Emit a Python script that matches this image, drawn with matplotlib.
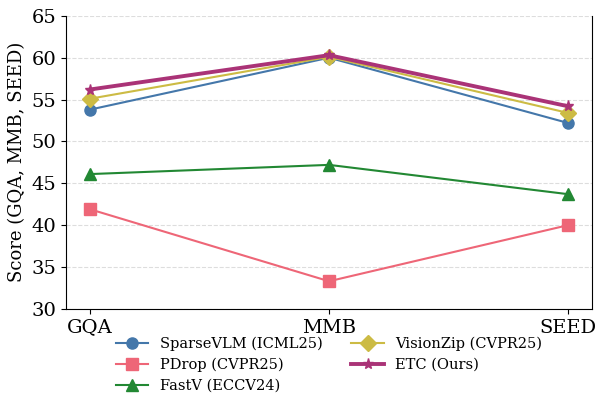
import numpy as np
import matplotlib
matplotlib.use("Agg")
import matplotlib.pyplot as plt

plt.rcParams['font.family'] = ['DejaVu Serif']

benchmarks = ['GQA', 'MMB', 'SEED']
sparsevlm = [53.8, 60.0, 52.2]
pdrop = [41.9, 33.3, 40.0]
fastv = [46.1, 47.2, 43.7]
visionzip = [55.1, 60.1, 53.4]
etc = [56.2, 60.3, 54.2]

x = np.arange(len(benchmarks))

fig = plt.figure(figsize=(5.95, 3.96), dpi=100)
ax = fig.add_axes([0.111, 0.22, 0.884, 0.74])

ax.plot(x, sparsevlm, color='#4477AA', marker='o', markersize=8, linewidth=1.5, label='SparseVLM (ICML25)')
ax.plot(x, pdrop, color='#EE6677', marker='s', markersize=8, linewidth=1.5, label='PDrop (CVPR25)')
ax.plot(x, fastv, color='#228833', marker='^', markersize=8, linewidth=1.5, label='FastV (ECCV24)')
ax.plot(x, visionzip, color='#CCBB44', marker='D', markersize=8, linewidth=1.5, label='VisionZip (CVPR25)')
ax.plot(x, etc, color='#AA3377', marker='*', markersize=8, linewidth=2.8, label='ETC (Ours)')

ax.set_xlim(-0.1, 2.1)
ax.set_ylim(30, 65)
ax.set_xticks(x)
ax.set_xticklabels(benchmarks, fontsize=14)
ax.tick_params(axis='y', labelsize=14)
ax.set_ylabel('Score (GQA, MMB, SEED)', fontsize=13)
ax.yaxis.grid(True, linestyle='--', color='#dddddd', linewidth=0.8)
ax.set_axisbelow(True)
ax.spines['top'].set_visible(False)

ax.legend(loc='upper center', bbox_to_anchor=(0.5, -0.066), ncol=2, frameon=False,
          fontsize=10.5, handlelength=2.2, labelspacing=0.45, columnspacing=2.0,
          borderaxespad=0.2)

fig.savefig('out.png', dpi=100)
